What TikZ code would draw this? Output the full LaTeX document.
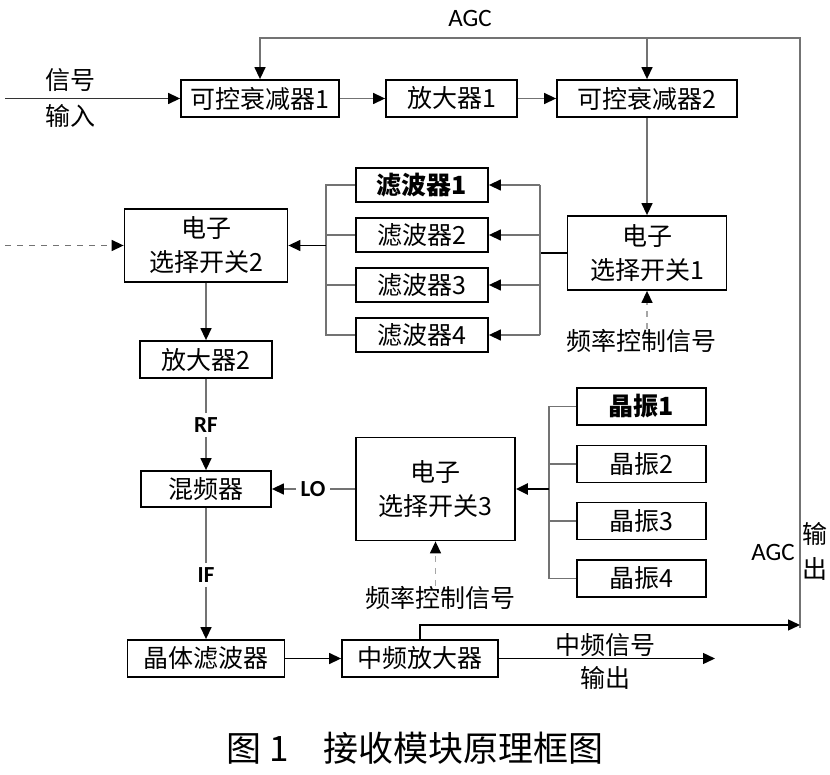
\documentclass[tikz,border=0pt]{standalone}
\usepackage{fontspec}
\setmainfont{Noto Sans CJK SC}
\newfontfamily\latf{Carlito}
\usetikzlibrary{arrows.meta}

\begin{document}
\begin{tikzpicture}[x=0.5pt,y=0.5pt]
	\tikzstyle{every node}+=[inner sep=0pt, font=\fontsize{12.5}{17}\selectfont]
	\tikzstyle{blk}=[draw=black, line width=0.9pt, align=center, minimum height=18.5pt]
	\tikzstyle{ln}=[draw=black!55, line width=0.7pt]
	\tikzstyle{arr}=[ln, -{Triangle[length=6pt,width=5.5pt,color=black]}]
	\tikzstyle{dsh}=[arr, dashed]
	\tikzstyle{lbl}=[fill=white, inner sep=2pt, font=\latf\bfseries\fontsize{11.5}{13}\selectfont]
	\useasboundingbox (0,0) rectangle (830,-775);
	% blocks
	\draw (260,-98.5) node[blk, minimum width=79pt] (att1) {可控衰减器1};
	\draw (451.5,-98.5) node[blk, minimum width=65.5pt] (amp1) {放大器1};
	\draw (647,-98.5) node[blk, minimum width=90pt] (att2) {可控衰减器2};
	\draw (647,-253) node[blk, minimum width=79.5pt, minimum height=37pt] (sw1) {电子\\选择开关1};
	\draw (422,-185) node[blk, minimum width=66pt, minimum height=17pt, font=\bfseries\fontsize{12.5}{17}\selectfont] (flt1) {滤波器1};
	\draw (422,-235) node[blk, minimum width=66pt, minimum height=17pt] (flt2) {滤波器2};
	\draw (422,-285) node[blk, minimum width=66pt, minimum height=17pt] (flt3) {滤波器3};
	\draw (422,-335) node[blk, minimum width=66pt, minimum height=17pt] (flt4) {滤波器4};
	\draw (206,-245.5) node[blk, minimum width=81.5pt, minimum height=36.5pt] (sw2) {电子\\选择开关2};
	\draw (206,-359.5) node[blk, minimum width=66pt] (amp2) {放大器2};
	\draw (206,-489) node[blk, minimum width=65pt, minimum height=18pt] (mix) {混频器};
	\draw (206,-658.5) node[blk, minimum width=78.5pt] (xf) {晶体滤波器};
	\draw (420,-658.5) node[blk, minimum width=78pt] (ifamp) {中频放大器};
	\draw (435.5,-489) node[blk, minimum width=79.5pt, minimum height=51.5pt] (sw3) {电子\\选择开关3};
	\draw (641.5,-406.5) node[blk, minimum width=64.5pt, font=\bfseries\fontsize{12.5}{17}\selectfont] (osc1) {晶振1};
	\draw (641.5,-464) node[blk, minimum width=64.5pt] (osc2) {晶振2};
	\draw (641.5,-521) node[blk, minimum width=64.5pt] (osc3) {晶振3};
	\draw (641.5,-578.5) node[blk, minimum width=64.5pt] (osc4) {晶振4};
	% labels
	\draw (70,-80) node (insig) {信号};
	\draw (70,-116) node (inlbl) {输入};
	\draw (470,-18) node[font=\latf\fontsize{12.5}{14}\selectfont] (agc1) {AGC};
	\draw (773,-552) node[font=\latf\fontsize{12.5}{14}\selectfont] (agc2) {AGC};
	\draw (815,-551) node[align=center, font=\fontsize{12.5}{17.5}\selectfont] (outv) {输\\出};
	\draw (605,-661.5) node[align=center, font=\fontsize{12.5}{16.5}\selectfont] (outl) {中频信号\\输出};
	\draw (641,-341) node (fc1) {频率控制信号};
	\draw (440,-598) node (fc3) {频率控制信号};
	\draw (206,-425) node[lbl] (rf) {RF};
	\draw (313,-489) node[lbl] (lo) {LO};
	\draw (206,-575) node[lbl] (if) {IF};
	\draw (415,-748) node[font=\fontsize{17.5}{20}\selectfont] (title) {图 1\quad 接收模块原理框图};
	% coordinates
	\coordinate (in) at (5,-98.5);
	\coordinate (in2) at (5,-245.5);
	\coordinate (agcT) at (800,-38);
	\coordinate (agcB) at (800,-628);
	\coordinate (agcIn) at (800,-625);
	\coordinate (busR) at (540,-253);
	\coordinate (busL) at (326,-245.5);
	\coordinate (busO) at (549,-489);
	\coordinate (out) at (715,-658.5);
	% top chain and AGC loop
	\draw[arr, draw=black!80] (in) -- (att1);
	\draw[arr] (att1) -- (amp1);
	\draw[arr] (amp1) -- (att2);
	\draw[arr] (agcB) -- (agcT) -| (att1.north);
	\draw[arr] (att2.north |- agcT) -- (att2.north);
	\draw[arr] (att2) -- (sw1);
	\draw[dsh, draw=black!35] (sw1.south |- fc1.north) -- (sw1.south);
	% filter bank
	\draw[ln, draw=black] (sw1) -- (busR);
	\draw[ln] (busR |- flt1) -- (busR |- flt4);
	\draw[arr] (busR |- flt1) -- (flt1);
	\draw[arr] (busR |- flt2) -- (flt2);
	\draw[arr] (busR |- flt3) -- (flt3);
	\draw[arr] (busR |- flt4) -- (flt4);
	\draw[ln] (flt1) -- (busL |- flt1) -- (busL |- flt4) -- (flt4);
	\draw[ln] (flt2) -- (busL |- flt2);
	\draw[ln] (flt3) -- (busL |- flt3);
	\draw[arr, draw=black] (busL) -- (sw2);
	\draw[dsh] (in2) -- (sw2);
	% receive chain
	\draw[arr] (sw2) -- (amp2);
	\draw[ln] (amp2) -- (rf);
	\draw[arr] (rf) -- (mix);
	\draw[ln] (mix) -- (if);
	\draw[arr] (if) -- (xf);
	\draw[arr, draw=black] (xf) -- (ifamp);
	\draw[arr, draw=black] (ifamp) -- (out);
	\draw[arr, draw=black] (ifamp.north) |- (agcIn);
	% local oscillator
	\draw[ln] (sw3) -- (lo);
	\draw[arr] (lo) -- (mix);
	\draw[ln] (osc1) -- (busO |- osc1) -- (busO |- osc4) -- (osc4);
	\draw[ln] (osc2) -- (busO |- osc2);
	\draw[ln] (osc3) -- (busO |- osc3);
	\draw[arr, draw=black, line width=1.2pt] (busO) -- (sw3);
	\draw[dsh, draw=black!35] (sw3.south |- fc3.north) -- (sw3.south);
\end{tikzpicture}
\end{document}
